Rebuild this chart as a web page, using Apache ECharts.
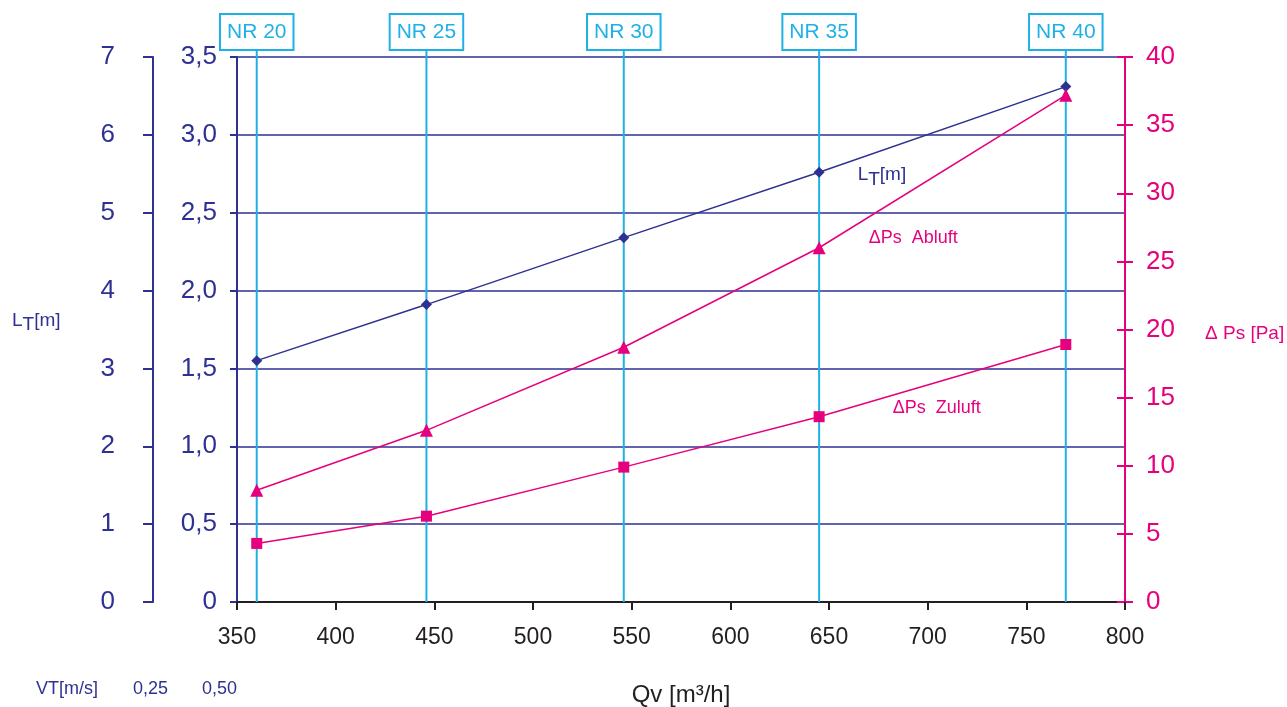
<!DOCTYPE html>
<html>
<head>
<meta charset="utf-8">
<script src="https://cdn.jsdelivr.net/npm/echarts@6/dist/echarts.min.js"></script>
<style>html,body{margin:0;padding:0;background:#fff}#c{width:1287px;height:707px}</style>
</head>
<body>
<div id="c"></div>
<script>
// Data
var qv = [360, 446, 546, 645, 770];
var ltValues = [1.55, 1.91, 2.34, 2.76, 3.31];
var abluftValues = [8.2, 12.6, 18.7, 26.0, 37.2];
var zuluftValues = [4.3, 6.3, 9.9, 13.6, 18.9];
var nrLabels = ['NR 20', 'NR 25', 'NR 30', 'NR 35', 'NR 40'];
var vtLabels = ['0,25', '0,50'];

var BLUE = '#2e3192', MAG = '#e6007e', NRC = '#1fb1e6', BLK = '#231f20';
var FF = '"Liberation Sans", Arial, Helvetica, sans-serif';

function pairs(ys){ return qv.map(function(x,i){ return [x, ys[i]]; }); }
function withLabel(ys, idx, text, off, col){
  return pairs(ys).map(function(p,i){
    if(i!==idx) return p;
    return {value:p, label:{show:true, position:'right', offset:off, formatter:text,
      color:col, fontFamily:FF, fontSize:(col===BLUE?19:18),
      rich:{sub:{fontSize:19, fontFamily:FF, color:BLUE, padding:[9,0,0,0]}, n:{fontSize:19, fontFamily:FF, color:BLUE}}}};
  });
}

var chart = echarts.init(document.getElementById('c'), null, {renderer:'canvas', width:1287, height:707});
chart.setOption({
  animation:false,
  backgroundColor:'#fff',
  grid:{left:237, top:57, width:888, height:545, containLabel:false, outerBoundsMode:'none'},
  xAxis:{type:'value', min:350, max:800, interval:50,
    name:'Qv [m³/h]', nameLocation:'middle', nameGap:81,
    nameTextStyle:{color:BLK, fontSize:24, fontFamily:FF},
    axisLine:{show:true, lineStyle:{color:BLK, width:2}},
    axisTick:{show:true, length:8, lineStyle:{color:BLK, width:2}},
    axisLabel:{color:BLK, fontSize:23, fontFamily:FF, margin:24},
    splitLine:{show:false}},
  yAxis:[
    {type:'value', position:'left', min:0, max:3.5, interval:0.5,
     axisLine:{show:true, lineStyle:{color:BLUE, width:2}},
     axisTick:{show:true, length:7, lineStyle:{color:BLUE, width:2}},
     axisLabel:{color:BLUE, fontSize:26, fontFamily:FF, margin:20,
       formatter:function(v){ return v===0?'0':v.toFixed(1).replace('.',','); }},
     splitLine:{show:true, lineStyle:{color:BLUE, width:1.5}}},
    {type:'value', position:'left', offset:84, min:0, max:7, interval:1,
     axisLine:{show:true, lineStyle:{color:BLUE, width:2}},
     axisTick:{show:true, length:10, lineStyle:{color:BLUE, width:2}},
     axisLabel:{color:BLUE, fontSize:26, fontFamily:FF, margin:38},
     splitLine:{show:false}},
    {type:'value', position:'right', min:0, max:40, interval:5,
     axisLine:{show:true, lineStyle:{color:MAG, width:2}},
     axisTick:{show:true, length:8, lineStyle:{color:MAG, width:2}},
     axisLabel:{color:MAG, fontSize:26, fontFamily:FF, margin:21},
     splitLine:{show:false}},
    {type:'value', position:'right', min:0, max:40, interval:5,
     axisLine:{show:false},
     axisTick:{show:true, inside:true, length:8, lineStyle:{color:MAG, width:2}},
     axisLabel:{show:false},
     splitLine:{show:false}}
  ],
  series:[
    {type:'custom', yAxisIndex:0, z:1, clip:false,
     data: qv.map(function(x){ return [x, 0]; }),
     renderItem:function(params, api){
       var x = api.value(0);
       var p0 = api.coord([x, 0]);
       var p1 = api.coord([x, 3.5]);
       var top = p1[1] - 8;
       return {type:'group', children:[
         {type:'line', shape:{x1:p0[0], y1:p0[1], x2:p0[0], y2:top}, style:{stroke:NRC, lineWidth:2}},
         {type:'text', x:p0[0], y:top, style:{text:nrLabels[params.dataIndex], fill:NRC,
           fontSize:21, fontFamily:FF, align:'center', verticalAlign:'bottom',
           backgroundColor:'#fff', borderColor:NRC, borderWidth:2, padding:[7,6,6,6]}}
       ]};
     }},
    {type:'line', name:'LT', yAxisIndex:0, z:3,
     data: withLabel(ltValues, 3, 'L{sub|T}{n|[m]}', [28, 3], BLUE),
     symbol:'diamond', symbolSize:11, itemStyle:{color:BLUE}, lineStyle:{color:BLUE, width:1.5}},
    {type:'line', name:'Abluft', yAxisIndex:2, z:3,
     data: withLabel(abluftValues, 3, 'ΔPs  Abluft', [38, -10], MAG),
     symbol:'triangle', symbolSize:13, itemStyle:{color:MAG}, lineStyle:{color:MAG, width:1.5}},
    {type:'line', name:'Zuluft', yAxisIndex:2, z:3,
     data: withLabel(zuluftValues, 3, 'ΔPs  Zuluft', [63, -9], MAG),
     symbol:'rect', symbolSize:11, itemStyle:{color:MAG}, lineStyle:{color:MAG, width:1.5}}
  ],
  graphic:[
    {type:'text', left:12, top:311, style:{text:'L{sub|T}{n|[m]}', fill:BLUE, fontFamily:FF, fontSize:19,
      rich:{sub:{fontSize:19, fontFamily:FF, fill:BLUE, padding:[9,0,0,0]}, n:{fontSize:19, fontFamily:FF, fill:BLUE}}}},
    {type:'text', left:1205, top:324, style:{text:'Δ Ps [Pa]', fill:MAG, fontSize:19, fontFamily:FF}},
    {type:'text', left:36, top:680, style:{text:'VT[m/s]', fill:BLUE, fontSize:18, fontFamily:FF}},
    {type:'text', left:133, top:680, style:{text:vtLabels[0], fill:BLUE, fontSize:18, fontFamily:FF}},
    {type:'text', left:202, top:680, style:{text:vtLabels[1], fill:BLUE, fontSize:18, fontFamily:FF}}
  ]
});
</script>
</body>
</html>
